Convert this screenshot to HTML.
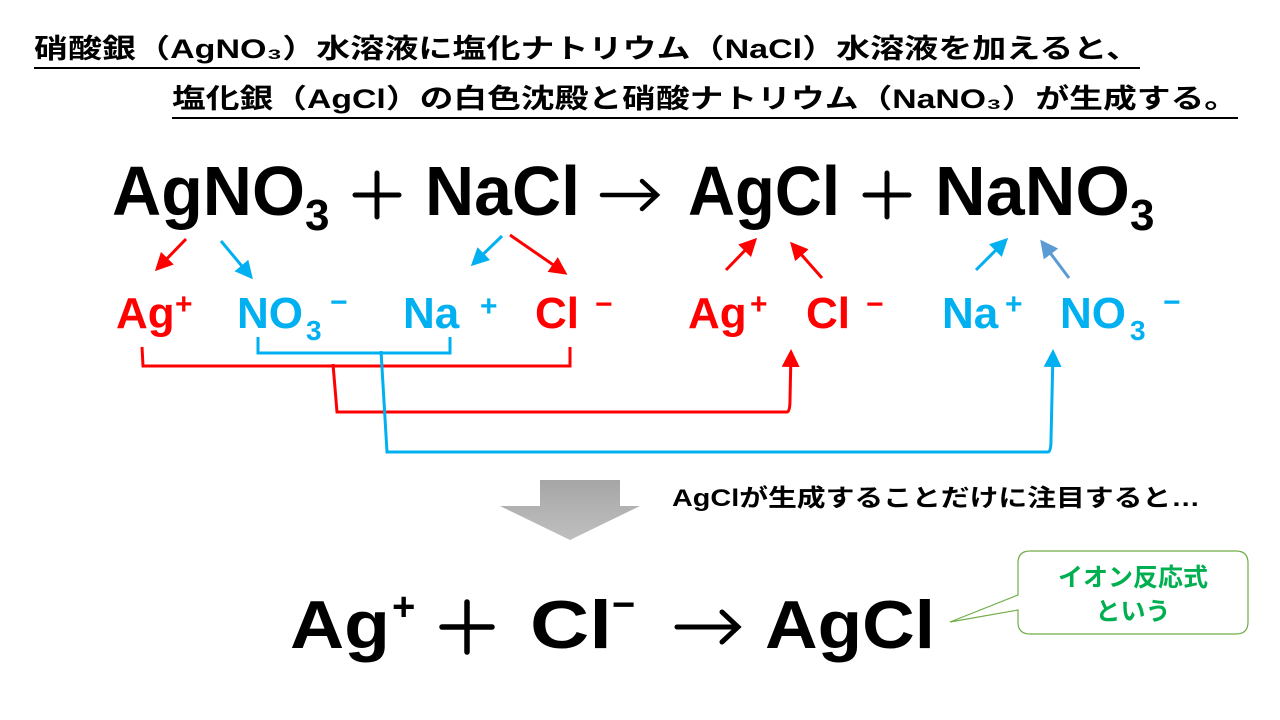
<!DOCTYPE html>
<html><head><meta charset="utf-8"><style>
html,body{margin:0;padding:0;background:#fff;width:1280px;height:720px;overflow:hidden}
svg text{font-family:"Liberation Sans","Noto Sans CJK JP",sans-serif;font-weight:bold}
</style></head><body>
<svg width="1280" height="720" viewBox="0 0 1280 720" xmlns="http://www.w3.org/2000/svg">
<defs>
<marker id="ar" markerWidth="6" markerHeight="6" refX="5" refY="3" orient="auto" markerUnits="strokeWidth"><path d="M0,0 L6,3 L0,6 z" fill="#ff0000"/></marker>
<marker id="ab" markerWidth="6" markerHeight="6" refX="5" refY="3" orient="auto" markerUnits="strokeWidth"><path d="M0,0 L6,3 L0,6 z" fill="#00b0f0"/></marker>
<marker id="as" markerWidth="6" markerHeight="6" refX="5" refY="3" orient="auto" markerUnits="strokeWidth"><path d="M0,0 L6,3 L0,6 z" fill="#5b9bd5"/></marker>
<linearGradient id="g" x1="0" y1="0" x2="0" y2="1"><stop offset="0" stop-color="#a6a6a6"/><stop offset="1" stop-color="#bfbfbf"/></linearGradient>
</defs>
<!-- title -->
<text x="34" y="58" font-size="27" textLength="1106" lengthAdjust="spacingAndGlyphs">硝酸銀（AgNO₃）水溶液に塩化ナトリウム（NaCl）水溶液を加えると、</text>
<line x1="34" y1="68" x2="1140" y2="68" stroke="#000" stroke-width="2"/>
<text x="172" y="108" font-size="27" textLength="1066" lengthAdjust="spacingAndGlyphs">塩化銀（AgCl）の白色沈殿と硝酸ナトリウム（NaNO₃）が生成する。</text>
<line x1="172" y1="118" x2="1238" y2="118" stroke="#000" stroke-width="2"/>
<!-- main equation -->
<g font-size="70">
<text x="112" y="215" textLength="193" lengthAdjust="spacingAndGlyphs">AgNO</text>
<text x="305" y="230" font-size="44">3</text>
<text x="425" y="215" textLength="155" lengthAdjust="spacingAndGlyphs">NaCl</text>
<text x="688" y="215" textLength="152" lengthAdjust="spacingAndGlyphs">AgCl</text>
<text x="935" y="215" textLength="195" lengthAdjust="spacingAndGlyphs">NaNO</text>
<text x="1130" y="230" font-size="44">3</text>
</g>
<g stroke="#000" stroke-width="5" fill="none" stroke-linecap="round">
<path d="M355,195 H399 M377,173 V217"/>
<path d="M865,195 H909 M887,173 V217"/>
<path d="M602,195 H656 M642,181 L657,195 L642,209" stroke-width="4.5"/>
<path d="M442,627 H492 M467,602 V652" stroke-width="5.5"/>
<path d="M677,627 H737 M722,612 L738,627 L722,642" stroke-width="5"/>
</g>
<!-- small arrows -->
<g stroke-width="3" fill="none">
<line x1="186" y1="239" x2="157" y2="269" stroke="#ff0000" marker-end="url(#ar)"/>
<line x1="221" y1="241" x2="251" y2="277" stroke="#00b0f0" marker-end="url(#ab)"/>
<line x1="502" y1="236" x2="473" y2="264" stroke="#00b0f0" marker-end="url(#ab)"/>
<line x1="510" y1="235" x2="565" y2="273" stroke="#ff0000" marker-end="url(#ar)"/>
<line x1="726" y1="270" x2="755" y2="240" stroke="#ff0000" marker-end="url(#ar)"/>
<line x1="822" y1="278" x2="792" y2="244" stroke="#ff0000" marker-end="url(#ar)"/>
<line x1="976" y1="270" x2="1006" y2="240" stroke="#00b0f0" marker-end="url(#ab)"/>
<line x1="1069" y1="278" x2="1042" y2="242" stroke="#5b9bd5" marker-end="url(#as)"/>
</g>
<!-- ions -->
<g font-size="44">
<text x="116" y="328" fill="#ff0000">Ag</text><text x="175" y="314" font-size="30" fill="#ff0000">+</text>
<text x="237" y="328" fill="#00b0f0">NO</text><text x="306" y="340" font-size="28" fill="#00b0f0">3</text><text x="330" y="312" font-size="30" fill="#00b0f0">−</text>
<text x="403" y="328" fill="#00b0f0">Na</text><text x="480" y="316" font-size="30" fill="#00b0f0">+</text>
<text x="535" y="328" fill="#ff0000">Cl</text><text x="595" y="314" font-size="30" fill="#ff0000">−</text>
<text x="688" y="328" fill="#ff0000">Ag</text><text x="750" y="314" font-size="30" fill="#ff0000">+</text>
<text x="806" y="328" fill="#ff0000">Cl</text><text x="866" y="314" font-size="30" fill="#ff0000">−</text>
<text x="942" y="328" fill="#00b0f0">Na</text><text x="1005" y="314" font-size="30" fill="#00b0f0">+</text>
<text x="1060" y="328" fill="#00b0f0">NO</text><text x="1130" y="340" font-size="28" fill="#00b0f0">3</text><text x="1163" y="312" font-size="30" fill="#00b0f0">−</text>
</g>
<!-- brackets -->
<g fill="none" stroke-width="3">
<path d="M258,337 L258,353 L450,353 L450,337" stroke="#00b0f0"/>
<path d="M142,347 L143,366 L570,366 L570,347" stroke="#ff0000"/>
<path d="M333,364 L337,412 L787,412 Q790,412 790,400 L791,352" stroke="#ff0000" marker-end="url(#ar)"/>
<path d="M381,351 L387,452 L1048,452 Q1051,452 1051,440 L1053,352" stroke="#00b0f0" marker-end="url(#ab)"/>
</g>
<!-- gray arrow -->
<path d="M540,480 L620,480 L620,506 L640,506 L570,540 L500,506 L540,506 Z" fill="url(#g)"/>
<text x="672" y="506" font-size="24" textLength="528" lengthAdjust="spacingAndGlyphs">AgClが生成することだけに注目すると…</text>
<!-- bottom equation -->
<g font-size="68">
<text x="290" y="648" textLength="100" lengthAdjust="spacingAndGlyphs">Ag</text>
<text x="392" y="620" font-size="40">+</text>
<text x="530" y="648" textLength="82" lengthAdjust="spacingAndGlyphs">Cl</text>
<text x="612" y="618" font-size="40">−</text>
<text x="765" y="648" textLength="170" lengthAdjust="spacingAndGlyphs">AgCl</text>
</g>
<!-- callout -->
<path d="M1030,551 L1236,551 Q1248,551 1248,563 L1248,622 Q1248,634 1236,634 L1030,634 Q1018,634 1018,622 L1018,610 L950,622 L1018,595 L1018,563 Q1018,551 1030,551 Z" fill="#fff" stroke="#70ad47" stroke-width="1.2"/>
<text x="1133" y="586" font-size="25" fill="#00b050" text-anchor="middle">イオン反応式</text>
<text x="1133" y="620" font-size="25" fill="#00b050" text-anchor="middle">という</text>
</svg>
</body></html>
